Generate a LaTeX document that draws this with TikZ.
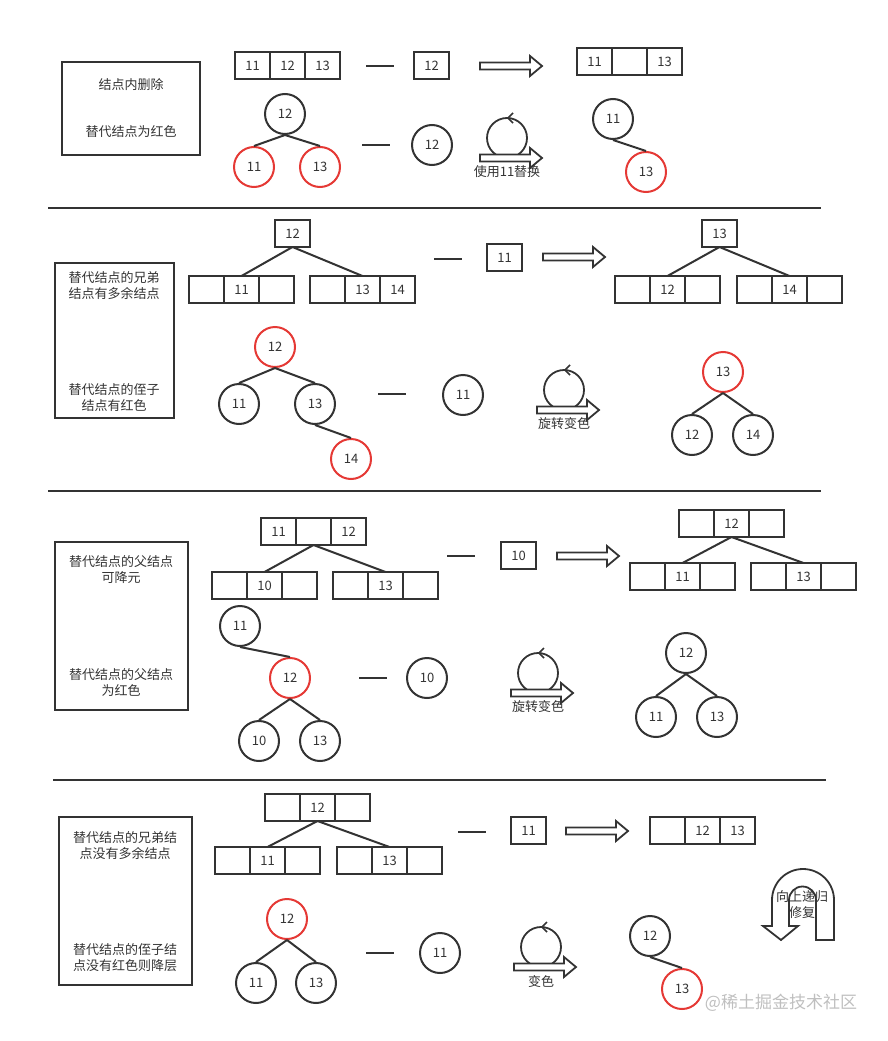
\documentclass[tikz,border=0pt]{standalone}
\usepackage{fontspec}
\setmainfont{Noto Sans CJK SC}
\usepackage{xcolor}
\newcommand{\CellW}{35}
\newcommand{\CellH}{27}
\newcommand{\KeyR}{20}
\definecolor{InkGray}{RGB}{51,51,51}
\definecolor{KeyRed}{RGB}{229,57,53}
\colorlet{MarkGray}{black!25}
\newcommand{\TxtFont}{\fontsize{13}{16}\selectfont}
\newcommand{\KeyRow}[4]{%
	\foreach \k [count=\i] in {#4}{
		\node[cell] (#1-\i) at ({#2 + (\i-0.5)*\CellW}, #3) {\k};
	}
}
\tikzset{
	cell/.style={draw=InkGray, line width=2pt, minimum width=\CellW, minimum height=\CellH, inner sep=0pt, outer sep=0pt, font=\TxtFont, text=InkGray},
	key/.style={circle, draw=InkGray, line width=2pt, minimum size=2*\KeyR, inner sep=0pt, font=\TxtFont, text=InkGray},
	redkey/.style={key, draw=KeyRed},
	link/.style={draw=InkGray, line width=2pt},
	minus/.style={draw=InkGray, line width=2.4pt},
	rule/.style={draw=InkGray, line width=2.2pt},
	case/.style={draw=InkGray, line width=2pt, inner sep=0pt},
	note/.style={align=center, font=\TxtFont, text=InkGray},
	outline/.style={draw=InkGray, line width=1.8pt, fill=white},
	fatarrow/.pic={
		\draw[outline] (0,-3.5) -- (50,-3.5) -- (50,-10) -- (62,0) -- (50,10) -- (50,3.5) -- (0,3.5) -- cycle;
	},
	turn/.pic={
		\draw[outline] (0,0) circle (\KeyR);
		\draw[draw=InkGray, line width=1.6pt] (6,-25) -- (1,-20) -- (6,-15);
		\pic at (-27,20) {fatarrow};
	}
}
\begin{document}
\begin{tikzpicture}[x=1pt, y=-1pt]
	\useasboundingbox (0,0) rectangle (888,1041);

	% case 1
	\node[case, minimum width=138, minimum height=93] (case1) at (131,108.5) {};
	\node[note] (case1a) at (131,85) {结点内删除};
	\node[note] (case1b) at (131,132) {替代结点为红色};

	\KeyRow{a1}{235}{65.5}{11,12,13}
	\draw[minus] (366,66) -- (394,66);
	\node[cell] (a1del) at (431.5,65.5) {12};
	\pic at (480,66) {fatarrow};
	\KeyRow{a1new}{577}{61.5}{11,{},13}

	\node[key] (t1p) at (285,114) {12};
	\node[redkey] (t1l) at (254,167) {11};
	\node[redkey] (t1r) at (320,167) {13};
	\draw[link] (t1p.south) -- (t1l.north);
	\draw[link] (t1p.south) -- (t1r.north);
	\draw[minus] (362,145) -- (390,145);
	\node[key] (t1del) at (432,145) {12};
	\pic at (507,138) {turn};
	\node[note] (t1cap) at (507,172) {使用11替换};
	\node[key] (t1np) at (613,119) {11};
	\node[redkey] (t1nr) at (646,172) {13};
	\draw[link] (t1np.south) -- (t1nr.north);

	\draw[rule] (48,208) -- (821,208);

	% case 2
	\node[case, minimum width=119, minimum height=155] (case2) at (114.5,340.5) {};
	\node[note] (case2a) at (114,286) {替代结点的兄弟\\结点有多余结点};
	\node[note] (case2b) at (114,398) {替代结点的侄子\\结点有红色};

	\node[cell] (b2top) at (292.5,233.5) {12};
	\KeyRow{b2l}{189}{289.5}{{},11,{}}
	\KeyRow{b2r}{310}{289.5}{{},13,14}
	\draw[link] (b2top.south) -- (b2l-2.north);
	\draw[link] (b2top.south) -- (b2r-2.north);
	\draw[minus] (434,259) -- (462,259);
	\node[cell] (b2del) at (504.5,257.5) {11};
	\pic at (543,257) {fatarrow};
	\node[cell] (b2ntop) at (719.5,233.5) {13};
	\KeyRow{b2nl}{615}{289.5}{{},12,{}}
	\KeyRow{b2nr}{737}{289.5}{{},14,{}}
	\draw[link] (b2ntop.south) -- (b2nl-2.north);
	\draw[link] (b2ntop.south) -- (b2nr-2.north);

	\node[redkey] (t2p) at (275,347) {12};
	\node[key] (t2l) at (239,404) {11};
	\node[key] (t2r) at (315,404) {13};
	\node[redkey] (t2rr) at (351,459) {14};
	\draw[link] (t2p.south) -- (t2l.north);
	\draw[link] (t2p.south) -- (t2r.north);
	\draw[link] (t2r.south) -- (t2rr.north);
	\draw[minus] (378,394) -- (406,394);
	\node[key] (t2del) at (463,395) {11};
	\pic at (564,390) {turn};
	\node[note] (t2cap) at (564,424) {旋转变色};
	\node[redkey] (t2np) at (723,372) {13};
	\node[key] (t2nl) at (692,435) {12};
	\node[key] (t2nr) at (753,435) {14};
	\draw[link] (t2np.south) -- (t2nl.north);
	\draw[link] (t2np.south) -- (t2nr.north);

	\draw[rule] (48,491) -- (821,491);

	% case 3
	\node[case, minimum width=133, minimum height=168] (case3) at (121.5,626) {};
	\node[note] (case3a) at (121,570) {替代结点的父结点\\可降元};
	\node[note] (case3b) at (121,682) {替代结点的父结点\\为红色};

	\KeyRow{c3top}{261}{531.5}{11,{},12}
	\KeyRow{c3l}{212}{585.5}{{},10,{}}
	\KeyRow{c3r}{333}{585.5}{{},13,{}}
	\draw[link] (c3top-2.south) -- (c3l-2.north);
	\draw[link] (c3top-2.south) -- (c3r-2.north);
	\draw[minus] (447,556) -- (475,556);
	\node[cell] (c3del) at (518.5,555.5) {10};
	\pic at (557,556) {fatarrow};
	\KeyRow{c3ntop}{679}{523.5}{{},12,{}}
	\KeyRow{c3nl}{630}{576.5}{{},11,{}}
	\KeyRow{c3nr}{751}{576.5}{{},13,{}}
	\draw[link] (c3ntop-2.south) -- (c3nl-2.north);
	\draw[link] (c3ntop-2.south) -- (c3nr-2.north);

	\node[key] (t3g) at (240,626) {11};
	\node[redkey] (t3p) at (290,678) {12};
	\node[key] (t3l) at (259,741) {10};
	\node[key] (t3r) at (320,741) {13};
	\draw[link] (t3g.south) -- (t3p.north);
	\draw[link] (t3p.south) -- (t3l.north);
	\draw[link] (t3p.south) -- (t3r.north);
	\draw[minus] (359,678) -- (387,678);
	\node[key] (t3del) at (427,678) {10};
	\pic at (538,673) {turn};
	\node[note] (t3cap) at (538,707) {旋转变色};
	\node[key] (t3np) at (686,653) {12};
	\node[key] (t3nl) at (656,717) {11};
	\node[key] (t3nr) at (717,717) {13};
	\draw[link] (t3np.south) -- (t3nl.north);
	\draw[link] (t3np.south) -- (t3nr.north);

	\draw[rule] (53,780) -- (826,780);

	% case 4
	\node[case, minimum width=133, minimum height=168] (case4) at (125.5,901) {};
	\node[note] (case4a) at (125,846) {替代结点的兄弟结\\点没有多余结点};
	\node[note] (case4b) at (125,958) {替代结点的侄子结\\点没有红色则降层};

	\KeyRow{d4top}{265}{807.5}{{},12,{}}
	\KeyRow{d4l}{215}{860.5}{{},11,{}}
	\KeyRow{d4r}{337}{860.5}{{},13,{}}
	\draw[link] (d4top-2.south) -- (d4l-2.north);
	\draw[link] (d4top-2.south) -- (d4r-2.north);
	\draw[minus] (458,832) -- (486,832);
	\node[cell] (d4del) at (528.5,830.5) {11};
	\pic at (566,831) {fatarrow};
	\KeyRow{d4new}{650}{830.5}{{},12,13}

	\node[redkey] (t4p) at (287,919) {12};
	\node[key] (t4l) at (256,983) {11};
	\node[key] (t4r) at (316,983) {13};
	\draw[link] (t4p.south) -- (t4l.north);
	\draw[link] (t4p.south) -- (t4r.north);
	\draw[minus] (366,953) -- (394,953);
	\node[key] (t4del) at (440,953) {11};
	\pic at (541,947) {turn};
	\node[note] (t4cap) at (541,982) {变色};
	\node[key] (t4np) at (650,936) {12};
	\node[redkey] (t4nr) at (682,989) {13};
	\draw[link] (t4np.south) -- (t4nr.north);

	\draw[outline] (834,940) -- (834,900) arc (0:-180:31) -- (772,926) -- (763,926) -- (781,940)
		-- (798,926) -- (789,926) -- (789,900) arc (180:360:13.5) -- (816,940) -- cycle;
	\node[note] (up4) at (802,905) {向上递归\\修复};

	\node[font=\fontsize{17}{17}\selectfont, text=MarkGray] (mark) at (781,1003) {@稀土掘金技术社区};
\end{tikzpicture}
\end{document}
